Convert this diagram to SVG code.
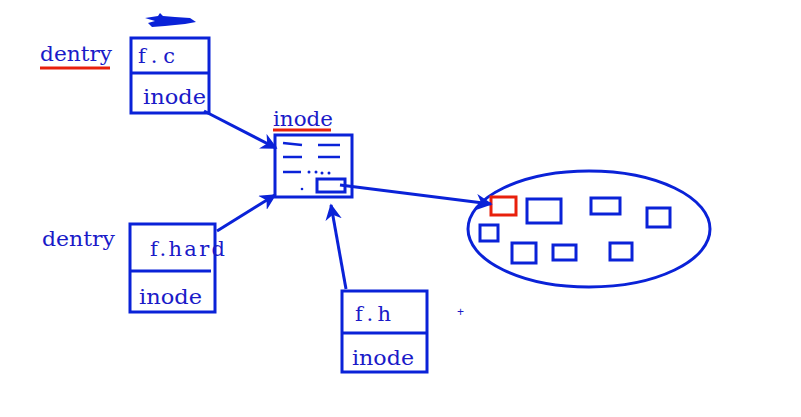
<svg xmlns="http://www.w3.org/2000/svg" width="801" height="417" viewBox="0 0 801 417">
<defs>
<style>
.b{fill:none;stroke:#0a22d8;stroke-width:3}
.t{font-family:"DejaVu Serif","Liberation Serif",serif;font-size:21px;fill:#1a1ac8}
.u{stroke:#e8200c;stroke-width:3}
.r{fill:none;stroke:#0a22d8;stroke-width:3}
.c{stroke:#0a22d8;stroke-width:3;fill:none}
</style>
<marker id="ah" viewBox="0 0 10 10" refX="9" refY="5" markerWidth="5.5" markerHeight="5.5" orient="auto"><path d="M0,0 L10,5 L0,10 L3,5 z" fill="#0a22d8"/></marker>
</defs>
<rect width="801" height="417" fill="#fff"/>
<g id="scribble"><path d="M145,18 L158,16 L160,13 L163,16 L175,17 L190,18 L196,22 L185,24 L165,26 L152,27 L148,23 L155,21 Z" fill="#0a22d8"/></g>
<g id="dentry1"><text class="t" x="40" y="61" textLength="72" lengthAdjust="spacingAndGlyphs">dentry</text><line class="u" x1="40" y1="68" x2="110" y2="68"/></g>
<g id="fc"><rect class="b" x="131" y="38" width="78" height="75"/><line class="b" x1="131" y1="73" x2="209" y2="73"/><text class="t" x="138" y="63" textLength="37" lengthAdjust="spacing">f.c</text><text class="t" x="143" y="104" textLength="63" lengthAdjust="spacingAndGlyphs">inode</text></g>
<g id="inode"><text class="t" x="273" y="126" textLength="60" lengthAdjust="spacingAndGlyphs">inode</text><line class="u" x1="273" y1="130" x2="331" y2="130"/>
<rect class="b" x="275" y="135" width="77" height="62"/>
<g stroke="#0a22d8" stroke-width="2.5"><line x1="283" y1="143" x2="302" y2="145"/><line x1="318" y1="145" x2="340" y2="145"/><line x1="283" y1="157" x2="302" y2="157"/><line x1="318" y1="157" x2="340" y2="157"/><line x1="283" y1="172" x2="301" y2="172"/></g>
<g fill="#0a22d8"><circle cx="309" cy="172" r="1.5"/><circle cx="316" cy="172" r="1.5"/><circle cx="322" cy="173" r="1.5"/><circle cx="329" cy="173" r="1.5"/><circle cx="302" cy="189" r="1.3"/></g>
<rect class="b" x="317" y="179" width="28" height="13"/></g>
<g id="dentry2"><text class="t" x="42" y="246" textLength="73" lengthAdjust="spacingAndGlyphs">dentry</text></g>
<g id="fhard"><rect class="b" x="130" y="224" width="85" height="88"/><line class="b" x1="130" y1="271" x2="211" y2="271"/><text class="t" x="150" y="256" textLength="75" lengthAdjust="spacing">f.hard</text><text class="t" x="139" y="304" textLength="63" lengthAdjust="spacingAndGlyphs">inode</text></g>
<g id="fh"><rect class="b" x="342" y="291" width="85" height="81"/><line class="b" x1="342" y1="333" x2="427" y2="333"/><text class="t" x="355" y="321" textLength="36" lengthAdjust="spacing">f.h</text><text class="t" x="352" y="365" textLength="62" lengthAdjust="spacingAndGlyphs">inode</text><text x="457" y="316" font-family="Liberation Sans,sans-serif" font-size="12" fill="#1a1ac8">+</text></g>
<g id="set"><ellipse class="b" cx="589" cy="229" rx="121" ry="58"/>
<rect x="491" y="197" width="25" height="18" fill="none" stroke="#e8200c" stroke-width="3"/>
<rect class="r" x="527" y="199" width="34" height="24"/>
<rect class="r" x="591" y="198" width="29" height="16"/>
<rect class="r" x="647" y="208" width="23" height="19"/>
<rect class="r" x="480" y="225" width="18" height="16"/>
<rect class="r" x="512" y="243" width="24" height="20"/>
<rect class="r" x="553" y="245" width="23" height="15"/>
<rect class="r" x="610" y="243" width="22" height="17"/></g>
<g id="connectors">
<line class="c" x1="204" y1="111" x2="276" y2="148" marker-end="url(#ah)"/>
<line class="c" x1="217" y1="231" x2="275" y2="195" marker-end="url(#ah)"/>
<line class="c" x1="346" y1="289" x2="331" y2="205" marker-end="url(#ah)"/>
<line class="c" x1="340" y1="185" x2="491" y2="204" marker-end="url(#ah)"/>
</g>
</svg>
